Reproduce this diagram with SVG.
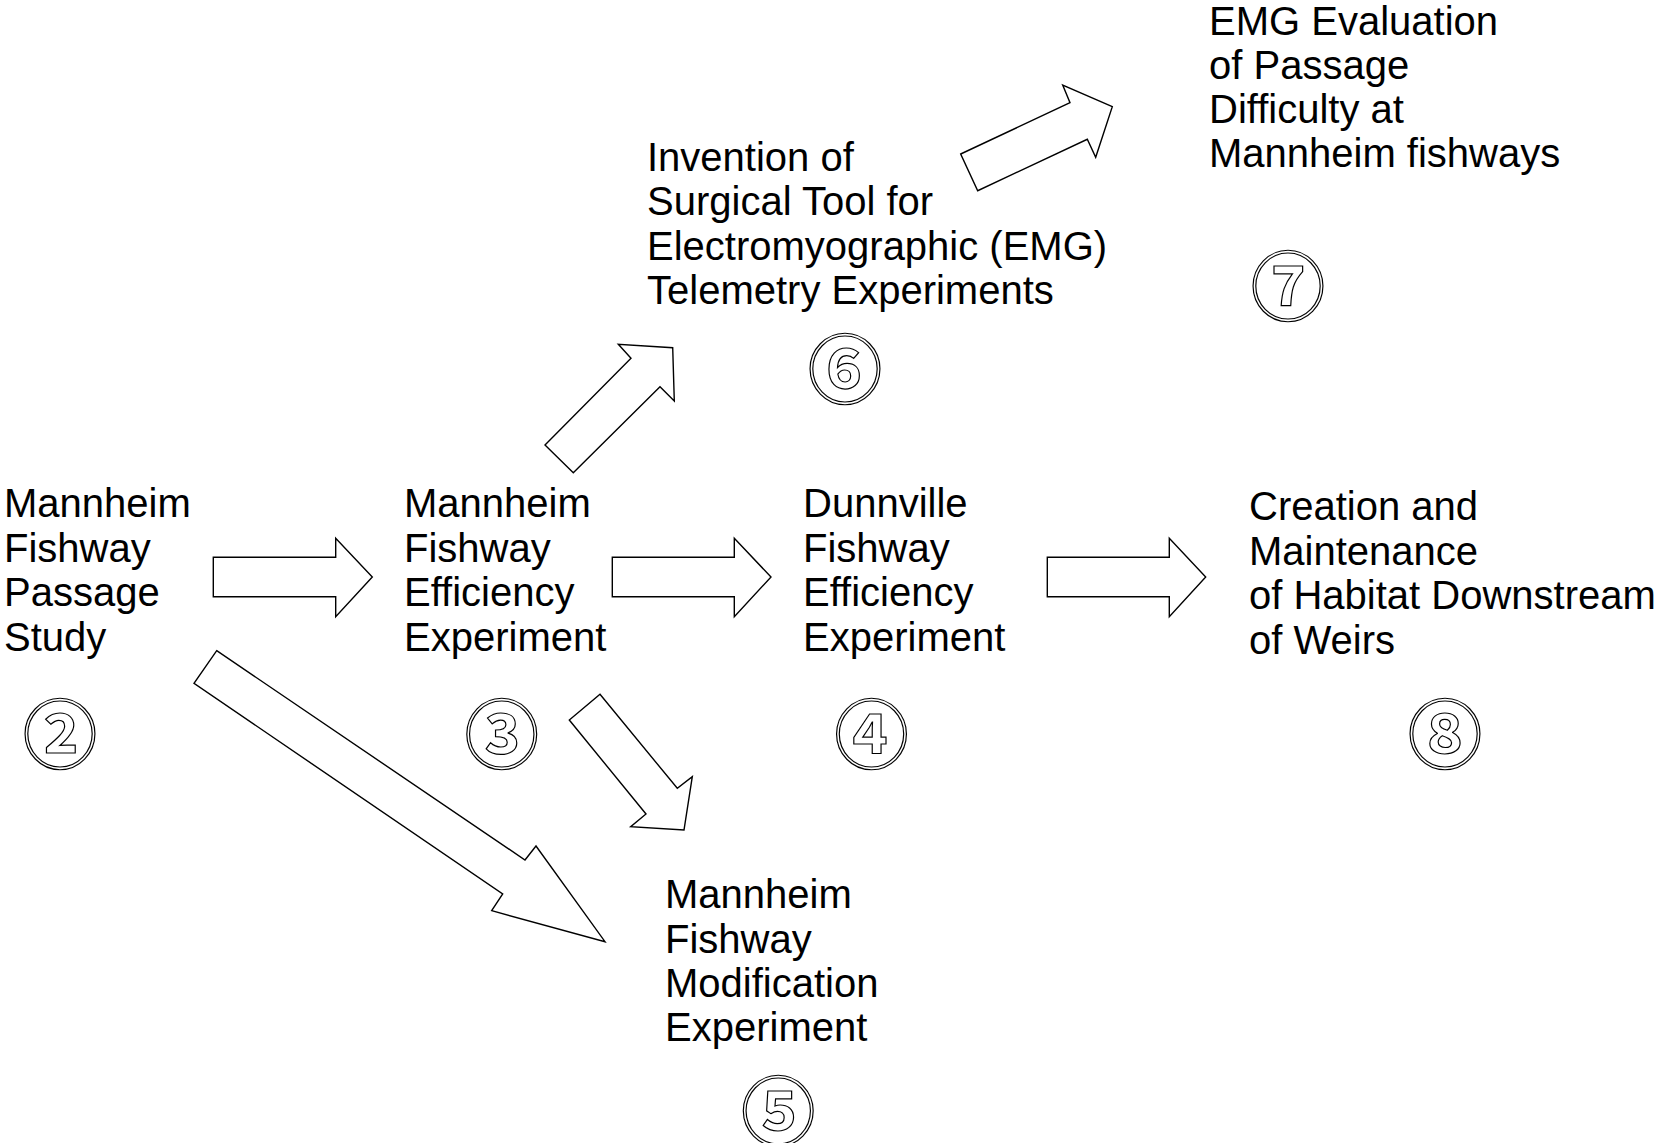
<svg xmlns="http://www.w3.org/2000/svg" width="1659" height="1143" viewBox="0 0 1659 1143">
<style>
  .lbl { font-family: "Liberation Sans", Arial, sans-serif; font-size: 40px; fill: #000; }
  .num { font-family: "Noto Sans CJK JP", "DejaVu Sans", sans-serif; font-size: 74px; font-weight: 700; fill: #fff; stroke: #000; stroke-width: 1.2; text-anchor: middle; dominant-baseline: central; }
  .arrow { fill: #fff; stroke: #000; stroke-width: 1.4; stroke-linejoin: miter; }
</style>
<rect width="1659" height="1143" fill="#fff"/>
<g id="connectors">
  <polygon class="arrow" points="213.3,557.3 335.7,557.3 335.7,538.3 372.3,577 335.7,616.7 335.7,596.7 213.3,596.7"/>
  <polygon class="arrow" points="612.3,557.3 734.3,557.3 734.3,538.3 771,577 734.3,616.7 734.3,596.7 612.3,596.7"/>
  <polygon class="arrow" points="1047.3,557.3 1169.3,557.3 1169.3,538.3 1205.7,577 1169.3,616.7 1169.3,596.7 1047.3,596.7"/>
  <polygon class="arrow" points="545,445 631,358.3 618.3,344.3 672.7,347.7 674.3,401 660,386.7 573.3,472.7"/>
  <polygon class="arrow" points="960.7,154 1070,102.7 1062.7,85 1112.3,106.7 1095.7,157.3 1087.3,139.3 977.7,190.7"/>
  <polygon class="arrow" points="216.7,650.7 525,860 536,846 605,941.7 491.7,910.7 502.7,894 194,683.3"/>
  <polygon class="arrow" points="600,694.3 677.3,788.3 692.3,776.7 684,830 630.7,826.7 646,814 569.3,720"/>
</g>
<g id="node2">
  <text class="lbl" x="4" y="517">Mannheim</text>
  <text class="lbl" x="4" y="561.5">Fishway</text>
  <text class="lbl" x="4" y="606">Passage</text>
  <text class="lbl" x="4" y="650.5">Study</text>
  <text class="num" x="60" y="729">②</text>
</g>
<g id="node3">
  <text class="lbl" x="404" y="517">Mannheim</text>
  <text class="lbl" x="404" y="561.5">Fishway</text>
  <text class="lbl" x="404" y="606">Efficiency</text>
  <text class="lbl" x="404" y="650.5">Experiment</text>
  <text class="num" x="501.7" y="729">③</text>
</g>
<g id="node4">
  <text class="lbl" x="803" y="517">Dunnville</text>
  <text class="lbl" x="803" y="561.5">Fishway</text>
  <text class="lbl" x="803" y="606">Efficiency</text>
  <text class="lbl" x="803" y="650.5">Experiment</text>
  <text class="num" x="871.5" y="729">④</text>
</g>
<g id="node5">
  <text class="lbl" x="665" y="908">Mannheim</text>
  <text class="lbl" x="665" y="952.5">Fishway</text>
  <text class="lbl" x="665" y="997">Modification</text>
  <text class="lbl" x="665" y="1041">Experiment</text>
  <text class="num" x="778.3" y="1106">⑤</text>
</g>
<g id="node6">
  <text class="lbl" x="647" y="170.5">Invention of</text>
  <text class="lbl" x="647" y="215">Surgical Tool for</text>
  <text class="lbl" x="647" y="259.5">Electromyographic (EMG)</text>
  <text class="lbl" x="647" y="304">Telemetry Experiments</text>
  <text class="num" x="845" y="364">⑥</text>
</g>
<g id="node7">
  <text class="lbl" x="1209" y="35">EMG Evaluation</text>
  <text class="lbl" x="1209" y="79">of Passage</text>
  <text class="lbl" x="1209" y="123">Difficulty at</text>
  <text class="lbl" x="1209" y="167">Mannheim fishways</text>
  <text class="num" x="1288" y="281">⑦</text>
</g>
<g id="node8">
  <text class="lbl" x="1249" y="520">Creation and</text>
  <text class="lbl" x="1249" y="564.5">Maintenance</text>
  <text class="lbl" x="1249" y="609">of Habitat Downstream</text>
  <text class="lbl" x="1249" y="653.5">of Weirs</text>
  <text class="num" x="1445" y="729">⑧</text>
</g>
</svg>
